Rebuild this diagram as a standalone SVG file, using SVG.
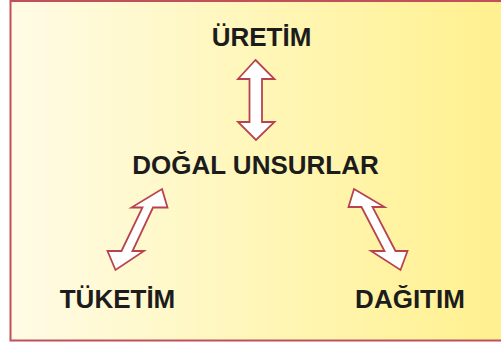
<svg xmlns="http://www.w3.org/2000/svg" width="501" height="342" viewBox="0 0 501 342">
<defs>
<linearGradient id="bg" x1="0" y1="0" x2="1" y2="0">
<stop offset="0" stop-color="#fffbe6"/>
<stop offset="0.5" stop-color="#fff6b6"/>
<stop offset="1" stop-color="#fff08a"/>
</linearGradient>
<style>
.lbl{font-family:"Liberation Sans",Arial,sans-serif;font-weight:bold;font-size:26px;fill:#1c1c1c;text-anchor:middle}
.arr{fill:#ffffff;stroke:#b8434f;stroke-width:1.8;stroke-linejoin:miter}
</style>
</defs>
<rect x="0" y="0" width="501" height="342" fill="#ffffff"/>
<rect x="10.5" y="1" width="520" height="339.5" fill="url(#bg)" stroke="#c0505a" stroke-width="2"/>
<g id="connectors">
<polygon class="arr" points="255.5,60 274.5,79 262,79 262,122 274.5,122 256,140 238,122 249.5,122 249.5,79 238,79"/>
<polygon class="arr" points="162,189 167.5,207.5 153,207.5 132.5,251 144,251 115.5,270 107.5,251 121.5,251 142.5,207.5 131.5,207.5"/>
<polygon class="arr" points="354,189 384.5,207 372.5,207 395.5,251 407.5,251 400.5,270 371,251 384.5,251 361.5,207 348.5,207"/>
</g>
<g id="uretim"><text class="lbl" x="261.5" y="46">ÜRETİM</text></g>
<g id="dogal"><text class="lbl" x="255.5" y="174">DOĞAL UNSURLAR</text></g>
<g id="tuketim"><text class="lbl" x="117.5" y="308">TÜKETİM</text></g>
<g id="dagitim"><text class="lbl" x="410" y="308">DAĞITIM</text></g>
</svg>
